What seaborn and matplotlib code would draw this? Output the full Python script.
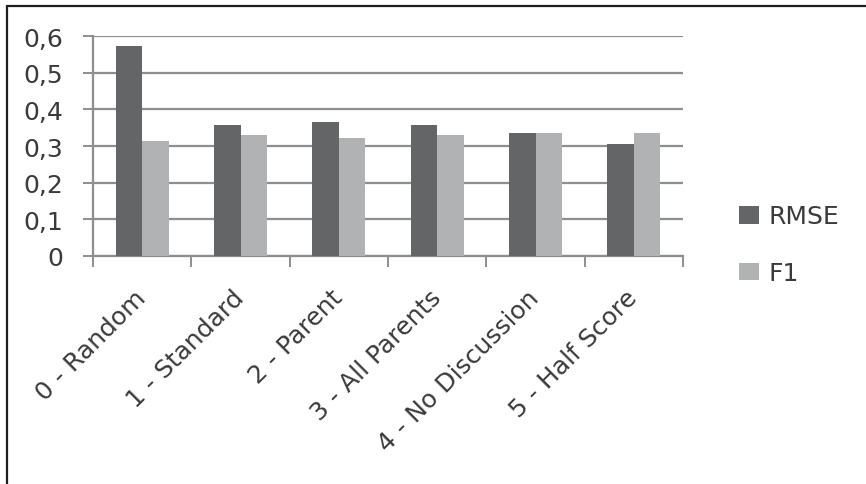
import matplotlib
matplotlib.use("Agg")
import matplotlib.pyplot as plt
from matplotlib.lines import Line2D
from matplotlib.patches import Patch
from matplotlib.ticker import FixedLocator, FuncFormatter
import seaborn as sns
import pandas as pd

# Scores per experiment setting
categories = ["0 - Random", "1 - Standard", "2 - Parent", "3 - All Parents",
              "4 - No Discussion", "5 - Half Score"]
rmse = [0.573, 0.358, 0.366, 0.358, 0.336, 0.306]
f1 = [0.315, 0.330, 0.323, 0.330, 0.336, 0.336]
series = ["RMSE", "F1"]
colors = ["#646567", "#b1b2b4"]
y_ticks = [0.0, 0.1, 0.2, 0.3, 0.4, 0.5, 0.6]

df = pd.DataFrame({
    "setting": categories * 2,
    "metric": [series[0]] * len(categories) + [series[1]] * len(categories),
    "value": rmse + f1,
})

sns.set_theme(style="white")
plt.rcParams["font.family"] = ["DejaVu Sans"]
text_color = "#3a3a3a"
grid_color = "#8e8e8e"
fs = 18

W, H = 866, 485
fig = plt.figure(figsize=(W / 100, H / 100), dpi=100)
fig.patch.set_facecolor("white")
ax = fig.add_axes([93 / W, 1 - 257 / H, (683 - 93) / W, (257 - 37) / H])

sns.barplot(data=df, x="setting", y="value", hue="metric", palette=colors,
            saturation=1, width=0.54, gap=0, ax=ax, legend=False,
            edgecolor="none", linewidth=0, zorder=3)

ax.set_ylim(0, 0.6)
ax.set_xlim(-0.5, len(categories) - 0.5)
ax.set_xlabel("")
ax.set_ylabel("")

# horizontal gridlines
ax.yaxis.set_major_locator(FixedLocator(y_ticks))
ax.yaxis.grid(True, color=grid_color, linewidth=1.6, zorder=0)
ax.xaxis.grid(False)
ax.set_axisbelow(True)
ax.yaxis.set_major_formatter(FuncFormatter(
    lambda v, _: "0" if abs(v) < 1e-9 else f"{v:.1f}".replace(".", ",")))

for side in ["top", "right"]:
    ax.spines[side].set_visible(False)
for side in ["left", "bottom"]:
    ax.spines[side].set_color(grid_color)
    ax.spines[side].set_linewidth(1.6)

ax.tick_params(axis="y", which="major", length=7.5, width=1.4, color=grid_color,
               pad=14, labelsize=fs, labelcolor=text_color, left=True)

# category separators as minor ticks, labels on the major positions
ax.set_xticks(range(len(categories)))
ax.set_xticks([i - 0.5 for i in range(len(categories) + 1)], minor=True)
ax.tick_params(axis="x", which="minor", length=8, width=1.4, color=grid_color,
               bottom=True)
ax.tick_params(axis="x", which="major", length=0, pad=27, labelsize=fs,
               labelcolor=text_color)
ax.set_xticklabels(categories, rotation=45, ha="right", va="center",
                   rotation_mode="anchor")

legend_handles = [Patch(facecolor=c, edgecolor="none", label=s)
                  for c, s in zip(colors, series)]
fig.legend(handles=legend_handles, loc="upper left",
           bbox_to_anchor=(716 / W, 1 - 183 / H), frameon=False,
           fontsize=fs, labelcolor=text_color, handlelength=0.8,
           handleheight=0.7, handletextpad=0.4, labelspacing=1.3)

# outer frame (left and top edges)
fx = 7.5 / W
fy = 1 - 6.5 / H
fig.add_artist(Line2D([fx, fx], [0, fy], color="#1e1e1e", linewidth=1.6,
                      transform=fig.transFigure))
fig.add_artist(Line2D([fx, 1], [fy, fy], color="#1e1e1e", linewidth=1.6,
                      transform=fig.transFigure))

fig.savefig("out.png", dpi=100, facecolor="white")
